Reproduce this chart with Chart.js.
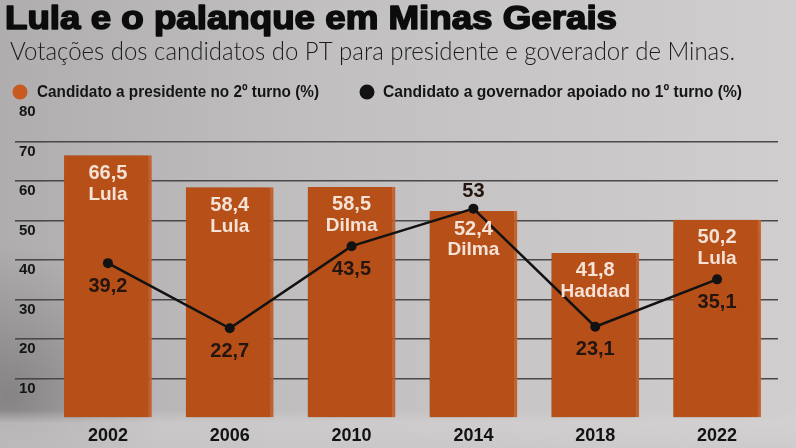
<!DOCTYPE html>
<html>
<head>
<meta charset="utf-8">
<script src="https://cdn.jsdelivr.net/npm/chart.js@4"></script>
<style>
  html, body { margin: 0; padding: 0; background: #c2c0c0; }
  #wrap { width: 796px; height: 448px; position: relative; }
</style>
</head>
<body>
<div id="wrap"><canvas id="c" width="796" height="448"></canvas></div>
<script>
// ---- Data ----
const titleText = 'Lula e o palanque em Minas Gerais';
const subtitleText = 'Votações dos candidatos do PT para presidente e goverador de Minas.';
const years = ['2002', '2006', '2010', '2014', '2018', '2022'];
const presidentLabel = 'Candidato a presidente no 2º turno (%)';
const presidentVotes = [66.5, 58.4, 58.5, 52.4, 41.8, 50.2];
const presidentCandidates = ['Lula', 'Lula', 'Dilma', 'Dilma', 'Haddad', 'Lula'];
const governorLabel = 'Candidato a governador apoiado no 1º turno (%)';
const governorVotes = [39.2, 22.7, 43.5, 53, 23.1, 35.1];
const yMin = 0, yMax = 80, yStep = 10;

// ---- Styles ----
const BAR_COLOR = '#b74f19';
const BAR_EDGE = '#cc6630';
const LEGEND_BAR = '#c65a1f';
const LINE_COLOR = '#121212';
const fmt = v => String(v).replace('.', ',');

function fitText(ctx, text, x, y, width, font, color) {
  ctx.save();
  ctx.font = font;
  ctx.fillStyle = color;
  ctx.textBaseline = 'alphabetic';
  ctx.textAlign = 'left';
  const w = ctx.measureText(text).width;
  ctx.translate(x, y);
  ctx.scale(width / w, 1);
  ctx.fillText(text, 0, 0);
  ctx.restore();
}

const backgroundPlugin = {
  id: 'bg',
  beforeDraw(chart) {
    const ctx = chart.ctx, W = chart.width, H = chart.height;
    ctx.save();
    let g = ctx.createLinearGradient(0, 0, W, 0);
    g.addColorStop(0, '#afadad');
    g.addColorStop(0.4, '#c1bfbf');
    g.addColorStop(1, '#d0cece');
    ctx.fillStyle = g;
    ctx.fillRect(0, 0, W, H);
    let r = ctx.createRadialGradient(10, 395, 5, 10, 395, 150);
    r.addColorStop(0, 'rgba(40,38,38,0.3)');
    r.addColorStop(1, 'rgba(40,38,38,0)');
    ctx.fillStyle = r;
    ctx.fillRect(0, 0, W, H);
    let f = ctx.createLinearGradient(0, 410, 0, H);
    f.addColorStop(0, 'rgba(212,210,210,0)');
    f.addColorStop(0.35, 'rgba(212,210,210,0.6)');
    f.addColorStop(1, 'rgba(204,202,202,0.7)');
    ctx.fillStyle = f;
    ctx.fillRect(0, 410, W, H - 410);
    ctx.restore();
  }
};

const headerPlugin = {
  id: 'header',
  afterDraw(chart) {
    const ctx = chart.ctx;
    ctx.save();
    ctx.font = 'bold 33px "Liberation Sans", Arial, sans-serif';
    const tw = ctx.measureText(titleText).width;
    ctx.translate(5, 29);
    ctx.scale(612 / tw, 1);
    ctx.fillStyle = '#0c0c0c';
    ctx.strokeStyle = '#0c0c0c';
    ctx.lineWidth = 1.6;
    ctx.lineJoin = 'round';
    ctx.strokeText(titleText, 0, 0);
    ctx.fillText(titleText, 0, 0);
    ctx.restore();
    fitText(ctx, subtitleText, 10, 60, 725, '300 25px Lato, "Open Sans", sans-serif', '#1d1d1d');
    const ds = chart.data.datasets;
    ctx.save();
    ctx.fillStyle = LEGEND_BAR;
    ctx.beginPath(); ctx.arc(20, 92, 7.5, 0, Math.PI * 2); ctx.fill();
    ctx.fillStyle = LINE_COLOR;
    ctx.beginPath(); ctx.arc(367, 92, 7.5, 0, Math.PI * 2); ctx.fill();
    ctx.restore();
    fitText(ctx, ds[1].label, 37, 97, 282, 'bold 17px "Liberation Sans", Arial, sans-serif', '#151515');
    fitText(ctx, ds[0].label, 383, 97, 359, 'bold 17px "Liberation Sans", Arial, sans-serif', '#151515');
  }
};

const shadowPlugin = {
  id: 'barShadow',
  beforeDatasetDraw(chart, args) {
    if (chart.data.datasets[args.index].type === 'bar') {
      const ctx = chart.ctx;
      ctx.save();
      ctx.shadowColor = 'rgba(30,20,15,0.35)';
      ctx.shadowBlur = 12;
      ctx.shadowOffsetX = -5;
      ctx.shadowOffsetY = 3;
    }
  },
  afterDatasetDraw(chart, args) {
    if (chart.data.datasets[args.index].type === 'bar') chart.ctx.restore();
  }
};

const labelsPlugin = {
  id: 'valueLabels',
  afterDatasetsDraw(chart) {
    const ctx = chart.ctx;
    const barMeta = chart.getDatasetMeta(1);
    const lineMeta = chart.getDatasetMeta(0);
    ctx.save();
    ctx.textAlign = 'center';
    ctx.textBaseline = 'middle';
    barMeta.data.forEach((bar, i) => {
      ctx.fillStyle = '#f4e2d6';
      ctx.font = 'bold 20px "Liberation Sans", Arial, sans-serif';
      ctx.fillText(fmt(presidentVotes[i]), bar.x, bar.y + 18);
      ctx.font = 'bold 19px "Liberation Sans", Arial, sans-serif';
      ctx.fillText(presidentCandidates[i], bar.x, bar.y + 39);
    });
    lineMeta.data.forEach((pt, i) => {
      ctx.fillStyle = '#24150f';
      ctx.font = 'bold 20px "Liberation Sans", Arial, sans-serif';
      const above = governorVotes[i] > presidentVotes[i];
      ctx.fillText(fmt(governorVotes[i]), pt.x, above ? pt.y - 17 : pt.y + 23);
    });
    ctx.restore();
  }
};

new Chart(document.getElementById('c'), {
  data: {
    labels: years,
    datasets: [
      {
        type: 'line',
        label: governorLabel,
        data: governorVotes,
        borderColor: LINE_COLOR,
        backgroundColor: LINE_COLOR,
        borderWidth: 2.5,
        pointRadius: 5,
        pointBackgroundColor: LINE_COLOR,
        pointBorderWidth: 0,
        tension: 0,
        order: 0
      },
      {
        type: 'bar',
        label: presidentLabel,
        data: presidentVotes,
        backgroundColor: BAR_COLOR,
        borderColor: BAR_EDGE,
        borderWidth: { top: 0, left: 0, bottom: 0, right: 3 },
        borderSkipped: false,
        barPercentage: 0.72,
        categoryPercentage: 1,
        order: 1
      }
    ]
  },
  options: {
    responsive: false,
    animation: false,
    events: [],
    layout: { padding: { top: 102, left: 19, right: 18, bottom: 0 } },
    plugins: {
      legend: { display: false },
      tooltip: { enabled: false },
      title: { display: false }
    },
    scales: {
      x: {
        offset: true,
        grid: { display: false, drawTicks: false },
        border: { display: false },
        ticks: {
          color: '#121212',
          padding: 7,
          font: { family: '"Liberation Sans", Arial, sans-serif', size: 18, weight: 'bold' }
        },
        afterFit(scale) { scale.height = 30; }
      },
      y: {
        min: yMin,
        max: yMax,
        border: { display: false },
        grid: {
          color: ctx => (ctx.tick && (ctx.tick.value === yMin || ctx.tick.value === yMax)) ? 'rgba(0,0,0,0)' : '#4a4848',
          lineWidth: 1.6,
          drawTicks: true,
          tickLength: 32
        },
        ticks: {
          stepSize: yStep,
          labelOffset: 10,
          crossAlign: 'far',
          padding: 0,
          color: '#151515',
          font: { family: '"Liberation Sans", Arial, sans-serif', size: 15, weight: 'bold' },
          callback: v => v === yMin ? '' : v
        },
        afterFit(scale) { scale.width = 28; }
      }
    }
  },
  plugins: [backgroundPlugin, shadowPlugin, labelsPlugin, headerPlugin]
});
</script>
</body>
</html>
